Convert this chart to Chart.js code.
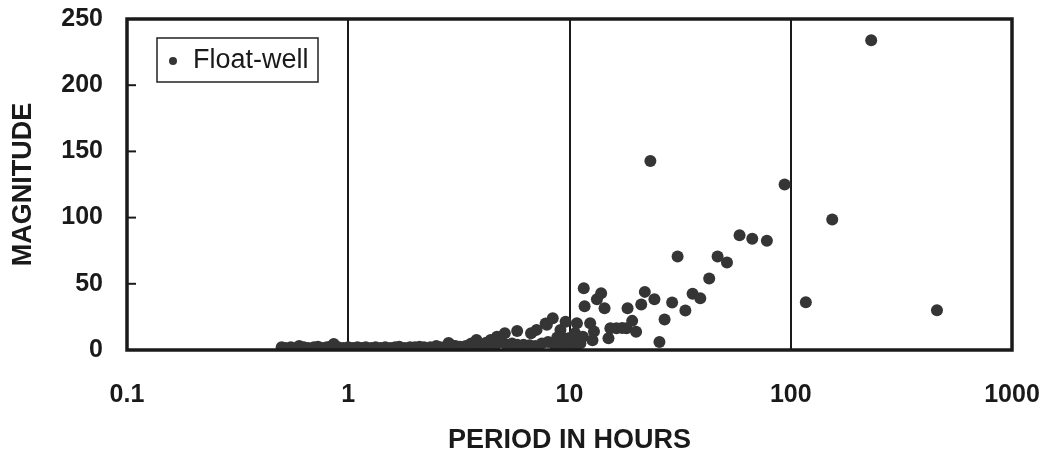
<!DOCTYPE html>
<html>
<head>
<meta charset="utf-8">
<script src="https://cdn.jsdelivr.net/npm/chart.js@4"></script>
<style>
  html, body { margin: 0; padding: 0; background: #fff; }
  #wrap { width: 1050px; height: 462px; }
</style>
</head>
<body>
<div id="wrap"><canvas id="chart"></canvas></div>
<script>
// values (period in hours, magnitude)
const periodHours = [
  // low band, 0.5 - 10 h
  0.5, 0.52, 0.55, 0.58, 0.6, 0.63, 0.66, 0.7, 0.73, 0.76, 0.8, 0.83, 0.86, 0.9,
  0.95, 1.0, 1.05, 1.1, 1.15, 1.2, 1.27, 1.33, 1.4, 1.47, 1.55, 1.63, 1.7, 1.8, 1.9,
  2.0, 2.1, 2.2, 2.35, 2.5, 2.6, 2.75, 2.9, 3.05, 3.2, 3.4, 3.6, 3.8, 4.0, 4.2,
  4.4, 4.6, 4.9, 5.2, 5.5, 5.8, 6.2, 6.6, 7.0, 7.5, 8.0, 8.6, 9.2, 9.8, 10.5,
  // rising part
  2.84, 3.8, 4.4, 4.7, 5.1, 5.8, 6.7, 7.1, 7.8, 7.9, 8.4, 8.8, 9.1, 9.3, 9.3,
  9.6, 10.0, 10.3, 10.6, 10.8, 11.2, 11.5, 11.6, 11.7, 12.4, 12.7, 12.9, 13.3, 13.9, 14.4,
  15.0, 15.3, 16.3, 17.3, 18.1, 18.3, 19.2, 20.0, 21.1, 21.9, 23.2, 24.2, 25.5, 26.9, 29.1,
  30.8, 33.4, 36.0, 39.0, 42.8, 46.7, 51.5, 58.7, 67.0, 78.0, 93.8, 117, 154, 231, 458
];
const magnitude = [
  2, 1.5, 2, 1.5, 3, 2, 1.5, 2, 2.5, 1.5, 2, 2.5, 4.5, 2,
  1.5, 2, 1.5, 2, 1.5, 2, 1.5, 2, 1.5, 2, 1.5, 2, 2.5, 1.5, 2,
  2, 2.5, 2, 2, 3, 2, 2.5, 4, 3, 2.5, 3, 5, 3.5, 3, 5.5,
  4, 3.5, 6, 4, 5, 4, 4, 3.5, 3, 5, 6, 3, 4, 3, 2,
  5.3, 7.6, 7.6, 10, 12.6, 14.4, 12.6, 15.2, 20, 19, 24, 9.5, 15.2, 9.5, 5,
  21.4, 9, 6.3, 12.6, 20.2, 5, 10, 46.7, 33, 20.2, 7.3, 13.9, 38.4, 42.9, 31.6,
  8.8, 16.4, 16.4, 16.6, 16.4, 31.6, 22, 13.7, 34.3, 43.9, 142.7, 38.4, 6, 23, 35.8,
  70.7, 29.8, 42.4, 39, 54, 70.7, 66, 86.6, 84, 82.5, 125, 36, 98.5, 234, 30
];
const xTicks = [0.1, 1, 10, 100, 1000];
const yTicks = [0, 50, 100, 150, 200, 250];
const seriesName = 'Float-well';

const FONT = "'Liberation Sans', Arial, sans-serif";
const INK = '#1a1a1a';
const DOT = '#353535';

// frame, inward y ticks and the legend box inside the plot
const framePlugin = {
  id: 'frame',
  afterDatasetsDraw(chart) {
    const {ctx, chartArea: a, scales} = chart;
    ctx.save();
    ctx.strokeStyle = INK;
    ctx.lineWidth = 2;
    for (const v of yTicks) {
      if (v === 0 || v === 250) continue;
      const y = scales.y.getPixelForValue(v);
      ctx.beginPath();
      ctx.moveTo(a.left, y);
      ctx.lineTo(a.left + 9, y);
      ctx.stroke();
    }
    ctx.lineWidth = 3.5;
    ctx.strokeRect(a.left, a.top, a.right - a.left, a.bottom - a.top);

    // legend
    const lx = a.left + 30, ly = a.top + 19, lw = 161, lh = 44;
    ctx.fillStyle = '#fff';
    ctx.fillRect(lx, ly, lw, lh);
    ctx.lineWidth = 1.5;
    ctx.strokeStyle = '#222';
    ctx.strokeRect(lx, ly, lw, lh);
    ctx.fillStyle = DOT;
    ctx.beginPath();
    ctx.arc(lx + 16, ly + lh / 2 + 1, 4, 0, Math.PI * 2);
    ctx.fill();
    ctx.fillStyle = INK;
    ctx.font = '27px ' + FONT;
    ctx.textBaseline = 'middle';
    ctx.fillText(chart.data.datasets[0].label, lx + 36, ly + lh / 2 + 1);
    ctx.restore();
  }
};

const noPad = s => { s.paddingTop = 0; s.paddingBottom = 0; s.paddingLeft = 0; s.paddingRight = 0; };

new Chart(document.getElementById('chart').getContext('2d'), {
  type: 'scatter',
  data: {
    datasets: [{
      label: seriesName,
      data: periodHours.map((p, i) => ({x: p, y: magnitude[i]})),
      backgroundColor: DOT,
      borderColor: DOT,
      pointRadius: 6,
      borderWidth: 0
    }]
  },
  options: {
    responsive: true, maintainAspectRatio: false, animation: false,
    layout: {padding: {left: 0, right: 38, top: 19, bottom: 0}},
    plugins: {legend: {display: false}, tooltip: {enabled: false}},
    scales: {
      x: {
        type: 'logarithmic', min: 0.1, max: 1000,
        afterBuildTicks: s => { s.ticks = xTicks.map(v => ({value: v})); },
        afterFit: s => { s.height = 112; noPad(s); },
        grid: {display: true, color: INK, lineWidth: 2, drawTicks: false},
        border: {display: false},
        ticks: {
          color: INK, padding: 30, maxRotation: 0, autoSkip: false,
          font: {family: FONT, size: 25, weight: 'bold'},
          callback: v => String(v)
        },
        title: {
          display: true, text: 'PERIOD IN HOURS', color: INK,
          font: {family: FONT, size: 27, weight: 'bold'},
          padding: {top: 0, bottom: 5}
        }
      },
      y: {
        min: 0, max: 250,
        afterBuildTicks: s => { s.ticks = yTicks.map(v => ({value: v})); },
        afterFit: s => { s.width = 127; noPad(s); },
        grid: {display: false, drawTicks: false},
        border: {display: false},
        ticks: {
          color: INK, padding: 24,
          font: {family: FONT, size: 25, weight: 'bold'}
        },
        title: {
          display: true, text: 'MAGNITUDE', color: INK,
          font: {family: FONT, size: 27, weight: 'bold'},
          padding: {top: 7, bottom: 0}
        }
      }
    }
  },
  plugins: [framePlugin]
});
</script>
</body>
</html>
